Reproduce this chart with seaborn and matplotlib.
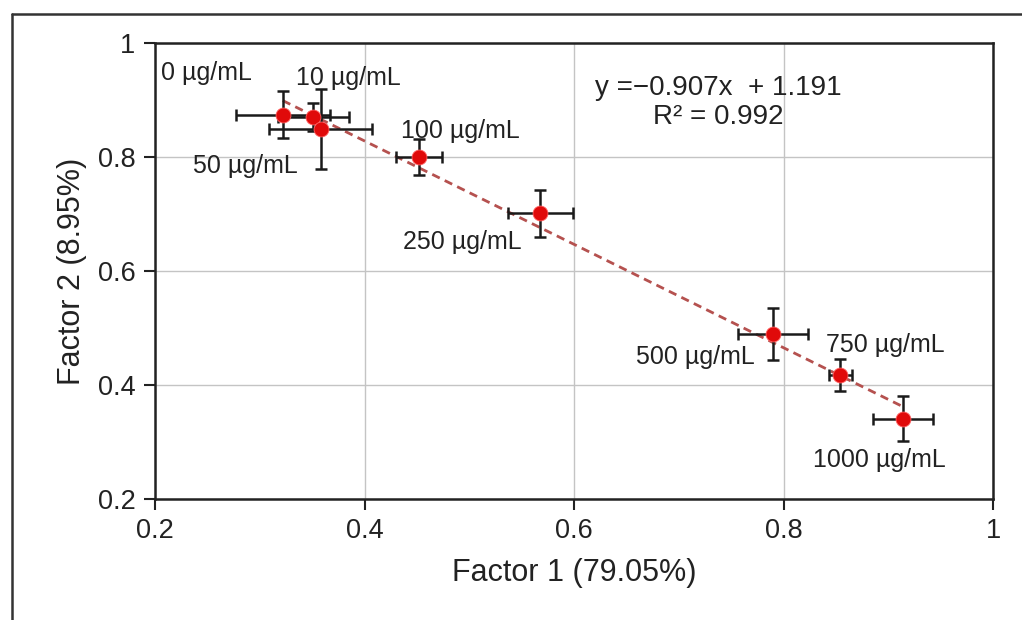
import numpy as np
import pandas as pd
import seaborn as sns
import matplotlib
matplotlib.use("Agg")
import matplotlib.pyplot as plt
from matplotlib.lines import Line2D

# ---- data ----
labels = ["0 µg/mL", "10 µg/mL", "50 µg/mL", "100 µg/mL", "250 µg/mL",
          "500 µg/mL", "750 µg/mL", "1000 µg/mL"]
factor1 = [0.322, 0.351, 0.358, 0.452, 0.568, 0.790, 0.854, 0.914]
factor2 = [0.874, 0.870, 0.849, 0.800, 0.701, 0.489, 0.418, 0.341]
err_x = [0.045, 0.034, 0.049, 0.022, 0.031, 0.033, 0.011, 0.029]
err_y = [0.041, 0.025, 0.070, 0.032, 0.041, 0.046, 0.028, 0.040]
slope, intercept, r2 = -0.907, 1.191, 0.992
# label anchor (left edge, vertical centre) in data coords
label_x = [0.206, 0.335, 0.236, 0.435, 0.437, 0.659, 0.841, 0.828]
label_y = [0.947, 0.938, 0.784, 0.846, 0.651, 0.449, 0.470, 0.268]
xticks = [0.2, 0.4, 0.6, 0.8, 1.0]
yticks = [0.2, 0.4, 0.6, 0.8, 1.0]
tick_text = ["0.2", "0.4", "0.6", "0.8", "1"]

df = pd.DataFrame({"Factor 1": factor1, "Factor 2": factor2, "label": labels})

sns.set_theme(style="ticks")
plt.rcParams["font.family"] = ["Liberation Sans", "DejaVu Sans"]

fig = plt.figure(figsize=(10.22, 6.2), dpi=100)
ax = fig.add_axes([155 / 1022, 1 - 499 / 620, (993 - 155) / 1022, (499 - 43) / 620])

# grid
ax.set_axisbelow(True)
ax.grid(True, color="#c4c4c4", linewidth=1.0)

# trend line
xs = np.array([min(factor1), max(factor1)])
trend = pd.DataFrame({"x": xs, "y": slope * xs + intercept})
sns.lineplot(data=trend, x="x", y="y", ax=ax, color="#b5514f",
             linestyle=(0, (3, 2)), linewidth=2.0, zorder=2)

# error bars
ax.errorbar(factor1, factor2, xerr=err_x, yerr=err_y, fmt="none",
            ecolor="#1a1a1a", elinewidth=1.8, capsize=4.5, capthick=1.8, zorder=3)

# points
sns.scatterplot(data=df, x="Factor 1", y="Factor 2", ax=ax, color="#e00a0a",
                s=115, edgecolor="#ff6060", linewidth=0.6, zorder=4)

for t, lx, ly in zip(labels, label_x, label_y):
    ax.text(lx, ly, t, fontsize=18, color="#222222", ha="left", va="center")

ax.text(0.738, 0.921, f"y =\u2212{abs(slope):.3f}x  + {intercept:.3f}",
        fontsize=20, color="#222222", ha="center", va="center")
ax.text(0.738, 0.870, f"R\u00b2 = {r2:.3f}", fontsize=20, color="#222222",
        ha="center", va="center")

ax.set_xlim(0.2, 1.0)
ax.set_ylim(0.2, 1.0)
ax.set_xticks(xticks)
ax.set_xticklabels(tick_text)
ax.set_yticks(yticks)
ax.set_yticklabels(tick_text)
ax.tick_params(axis="both", direction="out", length=8, width=1.5,
               labelsize=19.5, colors="#222222", pad=6)
for s in ax.spines.values():
    s.set_visible(True)
    s.set_color("#222222")
    s.set_linewidth(1.8)

ax.set_xlabel("Factor 1 (79.05%)", fontsize=22, color="#222222", labelpad=10)
ax.set_ylabel("Factor 2 (8.95%)", fontsize=22, color="#222222", labelpad=8)

# outer frame (top and left edges visible)
fig.add_artist(Line2D([12 / 1022, 1.0], [1 - 14 / 620, 1 - 14 / 620],
                      transform=fig.transFigure, color="#333333", linewidth=1.8))
fig.add_artist(Line2D([12 / 1022, 12 / 1022], [0.0, 1 - 14 / 620],
                      transform=fig.transFigure, color="#333333", linewidth=1.8))

fig.savefig("out.png", dpi=100, facecolor="white")
